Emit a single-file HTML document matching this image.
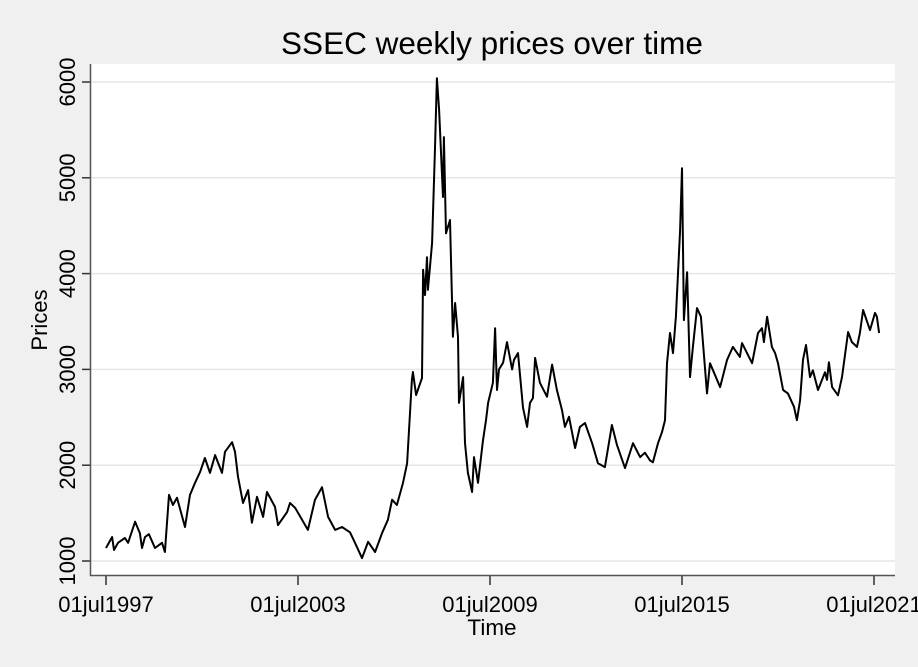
<!DOCTYPE html>
<html><head><meta charset="utf-8"><style>
html,body{margin:0;padding:0;background:#f0f0f0;}
svg{display:block;font-family:"Liberation Sans",Arial,sans-serif;}
</style></head><body>
<svg id="chart" width="918" height="667" viewBox="0 0 918 667" xmlns="http://www.w3.org/2000/svg">
<rect x="0" y="0" width="918" height="667" fill="#f0f0f0"/>
<rect x="90" y="64" width="805" height="511" fill="#ffffff"/>
<text x="492" y="54" font-size="31.5" text-anchor="middle" fill="#000">SSEC weekly prices over time</text>
<text transform="translate(47,320) rotate(-90)" font-size="22" text-anchor="middle" fill="#000">Prices</text>
<text x="492" y="635" font-size="22.5" text-anchor="middle" fill="#000">Time</text>
<g id="grid"></g><g id="yticks"></g><g id="xticks"></g><g id="series"></g>
<line x1="90.5" y1="64" x2="90.5" y2="576" stroke="#555" stroke-width="1.5"/>
<line x1="90" y1="575.5" x2="895" y2="575.5" stroke="#555" stroke-width="1.5"/>
</svg>
<script>
const yTicks=[1000,2000,3000,4000,5000,6000];
const xTickYears=[1997.5,2003.5,2009.5,2015.5,2021.5];
const xTickLabels=["01jul1997","01jul2003","01jul2009","01jul2015","01jul2021"];
const years=[1997.5,1997.69,1997.75,1997.875,1998.09,1998.19,1998.41,1998.56,1998.625,1998.72,1998.84,1999.03,1999.25,1999.34,1999.47,1999.59,1999.72,1999.97,2000.125,2000.28,2000.44,2000.59,2000.75,2000.91,2001.125,2001.22,2001.44,2001.53,2001.625,2001.78,2001.94,2002.06,2002.22,2002.41,2002.53,2002.78,2002.875,2003.16,2003.25,2003.41,2003.81,2004.03,2004.25,2004.44,2004.66,2004.875,2005.125,2005.28,2005.5,2005.69,2005.91,2006.125,2006.31,2006.44,2006.59,2006.78,2006.91,2007.0,2007.06,
2007.09,2007.19,2007.375,2007.41,2007.47,2007.53,2007.56,2007.69,2007.78,2007.84,2007.91,2008.03,2008.06,2008.125,2008.25,2008.34,2008.41,2008.5,2008.53,2008.66,2008.72,2008.81,2008.94,2009.0,2009.125,2009.28,2009.375,2009.44,2009.59,2009.66,2009.72,2009.78,2009.91,2010.03,2010.19,2010.25,2010.375,2010.53,2010.66,2010.75,2010.84,2010.91,2011.06,2011.28,2011.44,2011.59,2011.75,2011.84,2011.97,2012.16,2012.31,2012.47,2012.69,2012.875,2013.09,2013.31,2013.47,2013.72,2013.97,2014.19,
2014.34,2014.5,2014.59,2014.75,2014.875,2014.97,2015.03,2015.125,2015.22,2015.31,2015.44,2015.5,2015.56,2015.66,2015.75,2015.84,2015.97,2016.09,2016.28,2016.375,2016.69,2016.91,2017.09,2017.31,2017.375,2017.69,2017.875,2018.0,2018.06,2018.16,2018.31,2018.41,2018.5,2018.66,2018.81,2019.0,2019.09,2019.19,2019.28,2019.375,2019.5,2019.59,2019.75,2019.97,2020.03,2020.09,2020.19,2020.375,2020.5,2020.69,2020.81,2020.97,2021.06,2021.16,2021.375,2021.53,2021.59,2021.66];
const prices=[1136,1250,1115,1190,1240,1190,1410,1290,1136,1250,1280,1136,1190,1094,1690,1585,1660,1355,1690,1815,1930,2075,1920,2105,1920,2140,2240,2140,1880,1605,1740,1400,1670,1460,1720,1565,1375,1510,1605,1555,1325,1640,1770,1460,1325,1355,1300,1190,1030,1200,1094,1290,1430,1640,1585,1815,2020,2545,2890,
2973,2733,2910,4040,3776,4170,3830,4320,5310,6040,5710,4800,5425,4420,4560,3340,3693,3340,2650,2920,2230,1920,1720,2085,1815,2260,2470,2650,2860,3430,2785,3000,3070,3285,3000,3100,3170,2600,2400,2650,2700,3120,2860,2715,3050,2785,2575,2400,2505,2180,2400,2440,2230,2020,1980,2420,2210,1970,2230,2085,2130,
2050,2030,2230,2345,2470,3065,3380,3170,3550,4455,5100,3515,4015,2920,3235,3640,3550,2750,3065,2815,3100,3235,3130,3275,3065,3380,3430,3285,3550,3235,3170,3065,2785,2750,2610,2470,2680,3100,3255,2920,2990,2785,2970,2890,3075,2815,2730,2920,3390,3285,3235,3380,3620,3410,3590,3550,3380,3550];
const NS="http://www.w3.org/2000/svg";
function xs(yr){return 106+(yr-1997.5)*32;}
function ys(v){return 561-(v-1000)*0.0958;}
const grid=document.getElementById('grid'),yt=document.getElementById('yticks'),xt=document.getElementById('xticks'),ser=document.getElementById('series');
yTicks.forEach(v=>{
 const y=ys(v);
 const g=document.createElementNS(NS,'line');
 
 
 g.setAttribute('x1',91);g.setAttribute('x2',895);g.setAttribute('y1',y);g.setAttribute('y2',y);
 g.setAttribute('stroke','#e6e6e6');g.setAttribute('stroke-width','1.5');grid.appendChild(g);
 const t=document.createElementNS(NS,'line');
 
 
 t.setAttribute('x1',82);t.setAttribute('x2',90);t.setAttribute('y1',y);t.setAttribute('y2',y);
 t.setAttribute('stroke','#333');t.setAttribute('stroke-width','1.5');yt.appendChild(t);
 const l=document.createElementNS(NS,'text');
 
 
 l.setAttribute('transform','translate(75,'+y+') rotate(-90)');
 l.setAttribute('text-anchor','middle');l.setAttribute('font-size','22');
 l.textContent=v;yt.appendChild(l);
});
xTickYears.forEach((yr,i)=>{
 const x=xs(yr);
 const t=document.createElementNS(NS,'line');
 
 
 t.setAttribute('x1',x);t.setAttribute('x2',x);t.setAttribute('y1',576);t.setAttribute('y2',585);
 t.setAttribute('stroke','#333');t.setAttribute('stroke-width','1.5');xt.appendChild(t);
 const l=document.createElementNS(NS,'text');
 
 
 l.setAttribute('x',x);l.setAttribute('y',612);
 l.setAttribute('text-anchor','middle');l.setAttribute('font-size','22');
 l.textContent=xTickLabels[i];xt.appendChild(l);
});
const p=document.createElementNS(NS,'path');


p.setAttribute('d',years.map((yr,i)=>(i?'L':'M')+xs(yr).toFixed(1)+','+ys(prices[i]).toFixed(1)).join(''));
p.setAttribute('fill','none');p.setAttribute('stroke','#000');p.setAttribute('stroke-width','2');p.setAttribute('stroke-linejoin','round');
ser.appendChild(p);
</script>
</body></html>
